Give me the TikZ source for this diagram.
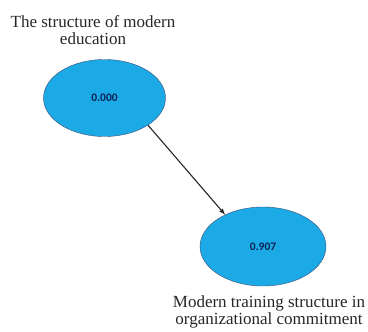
\documentclass[tikz,border=0pt]{standalone}
\usepackage{fontspec}
\setmainfont{Liberation Serif}
\newfontfamily\numfont{Carlito}
\usetikzlibrary{arrows, shapes.geometric, positioning}
\definecolor{latentblue}{RGB}{28,170,230}
\definecolor{numnavy}{RGB}{12,32,84}

\begin{document}
\begin{tikzpicture}[x=1pt, y=-1pt,
  latent/.style={ellipse, draw=numnavy!80, fill=latentblue, inner sep=0pt,
    minimum width=122pt, minimum height=77pt,
    font=\numfont\bfseries\fontsize{11.5}{11.5}\selectfont, text=numnavy},
  caption/.style={align=center, font=\fontsize{17}{17}\selectfont, text=black!85}]
  \useasboundingbox (0,0) rectangle (368,332);
  \node[latent] (edu) at (104.5,98) {0.000};
  \node[latent, minimum width=126pt, minimum height=79pt] (org) at (263,246.5) {0.907};
  \node[caption] (edutxt) at (93,30) {The structure of modern\\education};
  \node[caption] (orgtxt) at (269,312) {Modern training structure in\\organizational commitment};
  \draw[->, >=latex, line width=1.1pt, black!85] (edu.-32) to (org.140);
\end{tikzpicture}
\end{document}
